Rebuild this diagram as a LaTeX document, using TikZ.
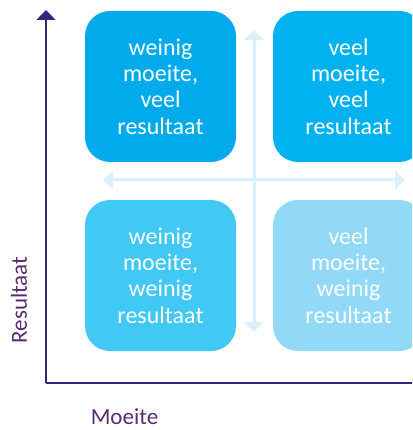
\documentclass[tikz,border=0pt]{standalone}
\usepackage{fontspec}
\setmainfont{Carlito}
\usetikzlibrary{arrows.meta}
\definecolor{tlcol}{RGB}{0,170,235}
\definecolor{trcol}{RGB}{0,178,240}
\definecolor{blcol}{RGB}{66,200,244}
\definecolor{brcol}{RGB}{145,217,247}
\definecolor{arrcol}{RGB}{218,240,251}
\definecolor{axiscol}{RGB}{45,42,123}
\definecolor{labcol}{RGB}{88,44,112}
\tikzset{
  quad/.style={rounded corners=25pt, minimum width=151pt, minimum height=151pt, inner sep=0pt,
    text=white, align=center, font=\fontsize{24}{26.3}\selectfont},
  crossarrow/.style={draw=arrcol, line width=3pt, {Triangle[width=19pt,length=10pt]}-{Triangle[width=19pt,length=10pt]}},
  axisline/.style={draw=axiscol, line width=1.5pt},
  axlabel/.style={text=labcol, font=\fontsize{23}{26}\selectfont, inner sep=0pt}
}
\begin{document}
\begin{tikzpicture}[x=1pt,y=-1pt]
\useasboundingbox (0,0) rectangle (412,430);
\clip (0,0) rectangle (412,430);
% cross arrows
\coordinate (vt) at (254,30);
\coordinate (vb) at (254,332);
\coordinate (hl) at (103,180);
\coordinate (hr) at (405,180);
\draw[crossarrow] (vt) -- (vb);
\draw[crossarrow] (hl) -- (hr);
% boxes
\node[quad, fill=tlcol] (tl) at (160.5,86.5) {weinig\\moeite,\\veel\\resultaat};
\node[quad, fill=trcol] (tr) at (348.5,86.5) {veel\\moeite,\\veel\\resultaat};
\node[quad, fill=blcol] (bl) at (160.5,275.5) {weinig\\moeite,\\weinig\\resultaat};
\node[quad, fill=brcol] (br) at (348.5,275.5) {veel\\moeite,\\weinig\\resultaat};
% axes
\coordinate (org) at (46,383);
\coordinate (ytop) at (46,10);
\coordinate (xend) at (413,383);
\draw[axisline, -{Triangle[width=19pt,length=10pt]}] (org) -- (ytop);
\draw[axisline] (org) -- (xend);
% labels
\node[axlabel, rotate=90] (ylab) at (19,300) {Resultaat};
\node[axlabel] (xlab) at (124.5,417) {Moeite};
\end{tikzpicture}
\end{document}
